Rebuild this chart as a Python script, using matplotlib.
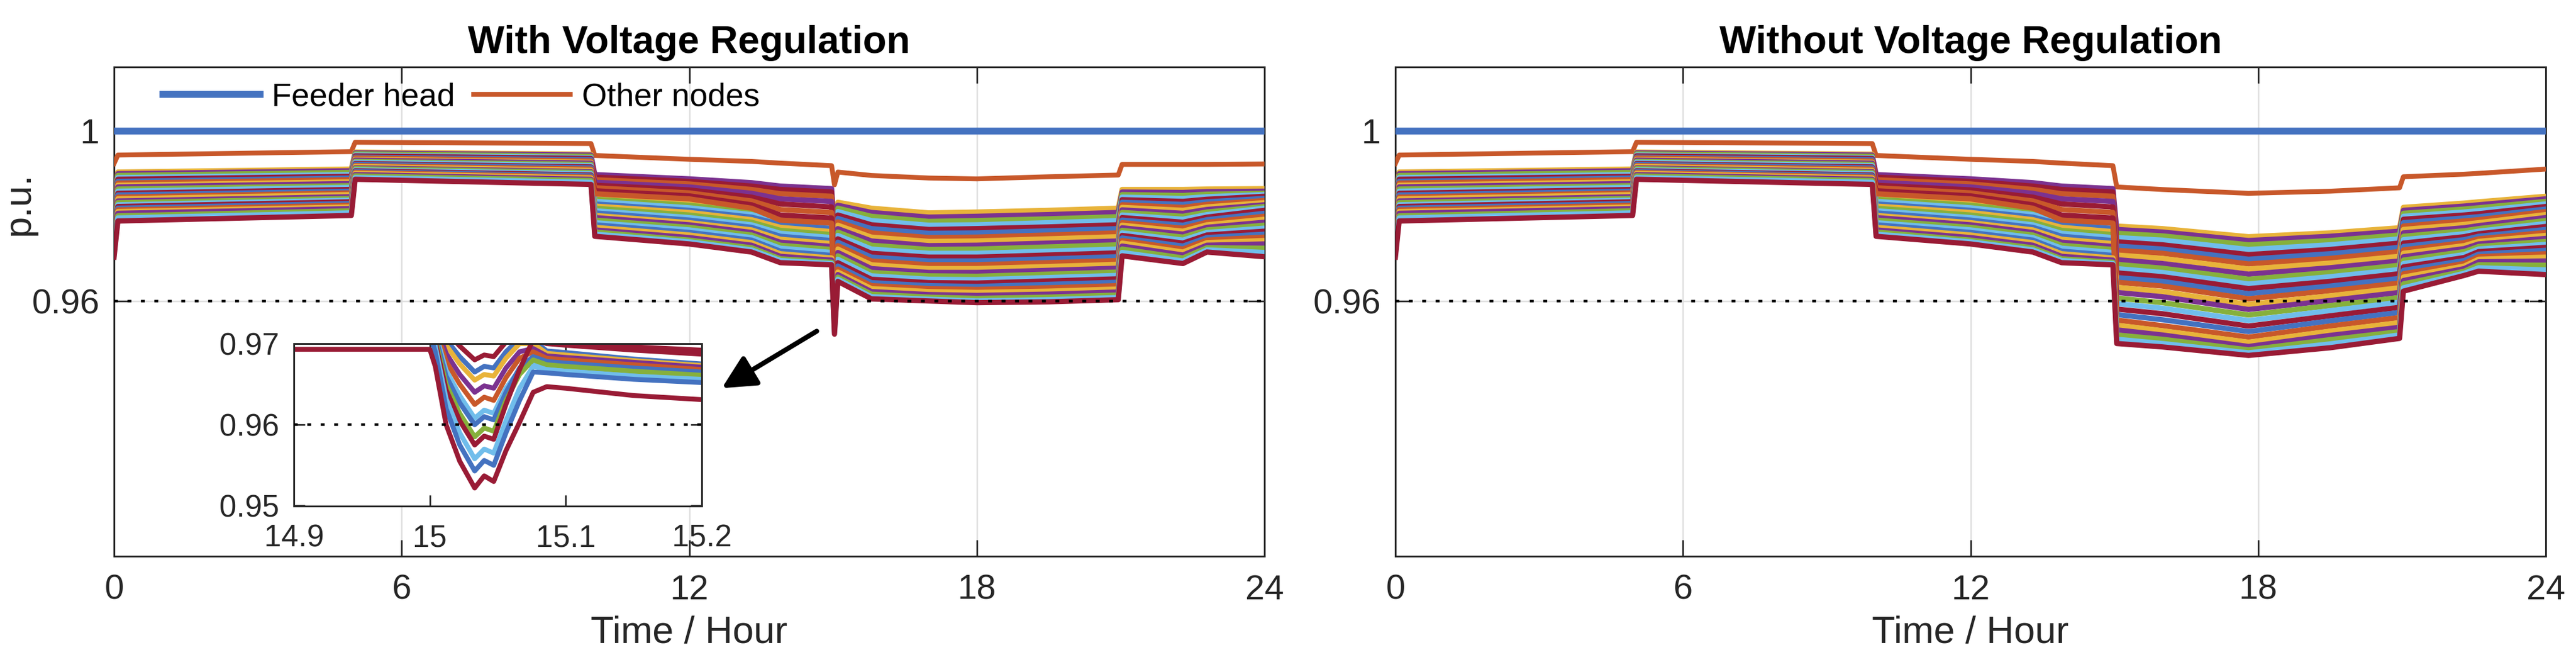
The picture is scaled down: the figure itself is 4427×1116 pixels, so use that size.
import numpy as np
import matplotlib
matplotlib.use('Agg')
import matplotlib.pyplot as plt

plt.rcParams['font.family'] = ['Liberation Sans', 'DejaVu Sans']

# ---------------- colours (MATLAB-like order) ----------------
BLUE, ORANGE, YELLOW, PURPLE, GREEN, LBLUE, DRED = (
    '#4472C0', '#C8582A', '#E8B33A', '#7B3290', '#86B03C', '#70BDEB', '#991B35')
PALETTE = [BLUE, ORANGE, YELLOW, PURPLE, GREEN, LBLUE, DRED]

# ---------------- data ----------------
feeder_t = [0.0, 24.0]
feeder_v = [1.0, 1.0]

# closest node ("Other nodes" legend entry)
top_t_pre = [0.0, 0.08, 4.95, 5.03, 9.95, 10.03, 12.0, 13.3, 13.9, 14.97]
top_v_pre = [0.9923, 0.9943, 0.9951, 0.9973, 0.9970, 0.9942, 0.9933, 0.9928, 0.9924, 0.9918]
top_t_reg = [15.03, 15.1, 15.8, 17.0, 18.0, 19.5, 20.95, 21.03, 22.3, 22.8, 24.0]
top_v_reg = [0.9873, 0.9903, 0.9895, 0.9889, 0.9887, 0.9892, 0.9896, 0.9921, 0.9921, 0.9921, 0.9922]
top_t_noreg = [15.05, 16.0, 17.8, 19.5, 20.95, 21.03, 22.3, 22.6, 24.0]
top_v_noreg = [0.9868, 0.9862, 0.9853, 0.9858, 0.9866, 0.9892, 0.9898, 0.9900, 0.9910]

# remaining nodes: one array per time instant, one entry per node
t_pre = [0.0, 0.08, 4.95, 5.03, 9.95, 10.03, 12.0, 13.3, 13.9, 14.97]
v_t0000 = [0.9845, 0.9839, 0.9834, 0.9828, 0.9822, 0.9817, 0.9811, 0.9805, 0.9799, 0.9793, 0.9787, 0.9781, 0.9775,
           0.9769, 0.9763, 0.9757, 0.9751, 0.9746, 0.9741, 0.9736, 0.9731, 0.9726, 0.9720, 0.9715, 0.9709, 0.9703]
v_t0008 = [0.9903, 0.9899, 0.9895, 0.9890, 0.9886, 0.9881, 0.9877, 0.9872, 0.9868, 0.9863, 0.9858, 0.9853, 0.9849,
           0.9844, 0.9840, 0.9835, 0.9831, 0.9826, 0.9822, 0.9818, 0.9814, 0.9810, 0.9806, 0.9800, 0.9795, 0.9788]
v_t0495 = [0.9910, 0.9906, 0.9902, 0.9897, 0.9893, 0.9889, 0.9885, 0.9880, 0.9876, 0.9871, 0.9867, 0.9862, 0.9858,
           0.9854, 0.9850, 0.9845, 0.9841, 0.9837, 0.9833, 0.9829, 0.9825, 0.9821, 0.9817, 0.9812, 0.9807, 0.9801]
v_t0503 = [0.9950, 0.9948, 0.9946, 0.9943, 0.9941, 0.9938, 0.9936, 0.9933, 0.9931, 0.9928, 0.9926, 0.9923, 0.9921,
           0.9918, 0.9916, 0.9913, 0.9911, 0.9908, 0.9906, 0.9904, 0.9902, 0.9900, 0.9897, 0.9894, 0.9890, 0.9886]
v_t0995 = [0.9945, 0.9943, 0.9940, 0.9937, 0.9935, 0.9932, 0.9929, 0.9926, 0.9924, 0.9921, 0.9918, 0.9915, 0.9913,
           0.9910, 0.9907, 0.9904, 0.9902, 0.9899, 0.9896, 0.9894, 0.9891, 0.9889, 0.9886, 0.9883, 0.9879, 0.9874]
v_t1003 = [0.9844, 0.9897, 0.9839, 0.9834, 0.9891, 0.9828, 0.9885, 0.9823, 0.9879, 0.9818, 0.9812, 0.9872, 0.9807,
           0.9866, 0.9801, 0.9796, 0.9790, 0.9784, 0.9859, 0.9779, 0.9852, 0.9773, 0.9767, 0.9762, 0.9757, 0.9752]
v_t1200 = [0.9830, 0.9887, 0.9825, 0.9819, 0.9881, 0.9813, 0.9875, 0.9808, 0.9868, 0.9802, 0.9796, 0.9861, 0.9790,
           0.9854, 0.9784, 0.9779, 0.9773, 0.9767, 0.9847, 0.9761, 0.9840, 0.9755, 0.9749, 0.9743, 0.9739, 0.9734]
v_t1330 = [0.9815, 0.9878, 0.9809, 0.9803, 0.9870, 0.9797, 0.9862, 0.9791, 0.9853, 0.9785, 0.9779, 0.9844, 0.9773,
           0.9835, 0.9767, 0.9761, 0.9755, 0.9749, 0.9826, 0.9743, 0.9818, 0.9737, 0.9731, 0.9725, 0.9720, 0.9715]
v_t1390 = [0.9800, 0.9870, 0.9794, 0.9787, 0.9862, 0.9780, 0.9852, 0.9773, 0.9840, 0.9766, 0.9759, 0.9828, 0.9752,
           0.9815, 0.9745, 0.9738, 0.9731, 0.9724, 0.9802, 0.9717, 0.9790, 0.9711, 0.9705, 0.9699, 0.9695, 0.9690]
v_t1497 = [0.9790, 0.9864, 0.9784, 0.9777, 0.9856, 0.9770, 0.9846, 0.9763, 0.9834, 0.9756, 0.9749, 0.9821, 0.9742,
           0.9808, 0.9735, 0.9728, 0.9721, 0.9714, 0.9795, 0.9707, 0.9783, 0.9701, 0.9696, 0.9691, 0.9688, 0.9685]

# with voltage regulation, after 15 h
t_reg = [15.03, 15.1, 15.8, 17.0, 18.0, 19.5, 20.95, 21.03, 22.3, 22.8, 24.0]
r_t1503 = [0.9780, 0.9768, 0.9757, 0.9745, 0.9733, 0.9720, 0.9707, 0.9694, 0.9681, 0.9668, 0.9655, 0.9642, 0.9630,
           0.9618, 0.9606, 0.9595, 0.9585, 0.9576, 0.9567, 0.9559, 0.9552, 0.9545, 0.9539, 0.9533, 0.9527, 0.9522]
r_t1510 = [0.9832, 0.9825, 0.9818, 0.9810, 0.9802, 0.9794, 0.9786, 0.9778, 0.9770, 0.9762, 0.9754, 0.9746, 0.9738,
           0.9730, 0.9722, 0.9714, 0.9706, 0.9698, 0.9690, 0.9682, 0.9675, 0.9668, 0.9662, 0.9656, 0.9651, 0.9646]
r_t1580 = [0.9818, 0.9808, 0.9799, 0.9789, 0.9779, 0.9770, 0.9760, 0.9750, 0.9741, 0.9731, 0.9722, 0.9712, 0.9703,
           0.9694, 0.9685, 0.9676, 0.9667, 0.9659, 0.9651, 0.9643, 0.9636, 0.9629, 0.9622, 0.9616, 0.9610, 0.9605]
r_t1700 = [0.9807, 0.9797, 0.9787, 0.9778, 0.9768, 0.9759, 0.9749, 0.9740, 0.9730, 0.9721, 0.9712, 0.9703, 0.9694,
           0.9685, 0.9676, 0.9667, 0.9659, 0.9651, 0.9643, 0.9636, 0.9629, 0.9622, 0.9615, 0.9609, 0.9604, 0.9600]
r_t1800 = [0.9809, 0.9799, 0.9789, 0.9779, 0.9770, 0.9760, 0.9750, 0.9741, 0.9731, 0.9722, 0.9712, 0.9703, 0.9694,
           0.9685, 0.9676, 0.9667, 0.9658, 0.9650, 0.9642, 0.9634, 0.9627, 0.9620, 0.9613, 0.9606, 0.9600, 0.9596]
r_t1950 = [0.9813, 0.9803, 0.9793, 0.9784, 0.9774, 0.9765, 0.9755, 0.9746, 0.9736, 0.9727, 0.9717, 0.9708, 0.9699,
           0.9690, 0.9681, 0.9672, 0.9663, 0.9655, 0.9647, 0.9639, 0.9631, 0.9623, 0.9616, 0.9609, 0.9603, 0.9598]
r_t2095 = [0.9818, 0.9808, 0.9798, 0.9789, 0.9779, 0.9770, 0.9760, 0.9751, 0.9741, 0.9732, 0.9722, 0.9713, 0.9704,
           0.9695, 0.9686, 0.9677, 0.9668, 0.9660, 0.9652, 0.9644, 0.9636, 0.9628, 0.9621, 0.9614, 0.9608, 0.9603]
r_t2103 = [0.9862, 0.9856, 0.9850, 0.9844, 0.9838, 0.9832, 0.9826, 0.9820, 0.9814, 0.9808, 0.9802, 0.9796, 0.9790,
           0.9784, 0.9778, 0.9772, 0.9766, 0.9760, 0.9754, 0.9748, 0.9742, 0.9736, 0.9729, 0.9722, 0.9714, 0.9706]
r_t2230 = [0.9862, 0.9855, 0.9848, 0.9841, 0.9834, 0.9827, 0.9820, 0.9813, 0.9806, 0.9799, 0.9792, 0.9785, 0.9778,
           0.9771, 0.9764, 0.9757, 0.9750, 0.9743, 0.9736, 0.9729, 0.9722, 0.9715, 0.9708, 0.9701, 0.9694, 0.9688]
r_t2280 = [0.9863, 0.9857, 0.9851, 0.9845, 0.9839, 0.9833, 0.9827, 0.9821, 0.9815, 0.9809, 0.9803, 0.9797, 0.9791,
           0.9785, 0.9779, 0.9773, 0.9767, 0.9761, 0.9755, 0.9749, 0.9743, 0.9737, 0.9731, 0.9725, 0.9720, 0.9715]
r_t2400 = [0.9864, 0.9858, 0.9853, 0.9850, 0.9846, 0.9841, 0.9836, 0.9831, 0.9826, 0.9822, 0.9818, 0.9813, 0.9806,
           0.9799, 0.9792, 0.9785, 0.9778, 0.9771, 0.9764, 0.9757, 0.9750, 0.9742, 0.9734, 0.9724, 0.9714, 0.9704]

# without voltage regulation, after 15 h
t_noreg = [15.05, 16.0, 17.8, 19.5, 20.95, 21.03, 22.3, 22.6, 24.0]
n_t1505 = [0.9776, 0.9768, 0.9759, 0.9749, 0.9739, 0.9729, 0.9719, 0.9708, 0.9697, 0.9686, 0.9676, 0.9666, 0.9655,
           0.9644, 0.9632, 0.9620, 0.9607, 0.9594, 0.9581, 0.9568, 0.9555, 0.9543, 0.9532, 0.9520, 0.9510, 0.9500]
n_t1600 = [0.9770, 0.9762, 0.9753, 0.9743, 0.9732, 0.9722, 0.9712, 0.9700, 0.9688, 0.9677, 0.9667, 0.9657, 0.9646,
           0.9635, 0.9622, 0.9610, 0.9596, 0.9583, 0.9570, 0.9556, 0.9542, 0.9530, 0.9520, 0.9510, 0.9500, 0.9492]
n_t1780 = [0.9751, 0.9742, 0.9732, 0.9721, 0.9709, 0.9698, 0.9687, 0.9675, 0.9663, 0.9651, 0.9640, 0.9629, 0.9617,
           0.9605, 0.9592, 0.9580, 0.9567, 0.9554, 0.9541, 0.9528, 0.9515, 0.9503, 0.9493, 0.9485, 0.9478, 0.9472]
n_t1950 = [0.9760, 0.9752, 0.9742, 0.9732, 0.9721, 0.9711, 0.9700, 0.9689, 0.9678, 0.9667, 0.9657, 0.9646, 0.9635,
           0.9624, 0.9612, 0.9601, 0.9589, 0.9577, 0.9565, 0.9553, 0.9541, 0.9529, 0.9519, 0.9509, 0.9499, 0.9490]
n_t2095 = [0.9772, 0.9764, 0.9755, 0.9746, 0.9736, 0.9726, 0.9716, 0.9705, 0.9694, 0.9684, 0.9674, 0.9664, 0.9653,
           0.9642, 0.9631, 0.9620, 0.9608, 0.9597, 0.9585, 0.9573, 0.9561, 0.9549, 0.9538, 0.9528, 0.9520, 0.9512]
n_t2103 = [0.9820, 0.9813, 0.9806, 0.9799, 0.9792, 0.9784, 0.9776, 0.9768, 0.9760, 0.9752, 0.9744, 0.9736, 0.9728,
           0.9720, 0.9712, 0.9704, 0.9696, 0.9688, 0.9680, 0.9672, 0.9664, 0.9656, 0.9648, 0.9640, 0.9631, 0.9623]
n_t2230 = [0.9830, 0.9823, 0.9816, 0.9809, 0.9802, 0.9795, 0.9788, 0.9780, 0.9772, 0.9765, 0.9758, 0.9751, 0.9744,
           0.9737, 0.9730, 0.9723, 0.9716, 0.9709, 0.9702, 0.9695, 0.9688, 0.9682, 0.9676, 0.9670, 0.9665, 0.9660]
n_t2260 = [0.9833, 0.9826, 0.9819, 0.9812, 0.9805, 0.9798, 0.9791, 0.9784, 0.9777, 0.9770, 0.9764, 0.9758, 0.9752,
           0.9746, 0.9740, 0.9734, 0.9728, 0.9722, 0.9716, 0.9710, 0.9704, 0.9698, 0.9692, 0.9685, 0.9678, 0.9670]
n_t2400 = [0.9846, 0.9840, 0.9834, 0.9828, 0.9822, 0.9816, 0.9810, 0.9803, 0.9796, 0.9789, 0.9782, 0.9775, 0.9768,
           0.9761, 0.9754, 0.9747, 0.9740, 0.9733, 0.9726, 0.9719, 0.9711, 0.9703, 0.9694, 0.9684, 0.9673, 0.9662]

# inset (zoom around 15 h, with regulation)
inset_t = [14.9, 15.0, 15.004, 15.012, 15.022, 15.033, 15.04, 15.047, 15.056, 15.066, 15.076, 15.086, 15.1, 15.15, 15.2]
inset_rows = [
    [0.9752, 0.9752, 0.9740, 0.9715, 0.9697, 0.9680, 0.9686, 0.9684, 0.9702, 0.9716, 0.9712, 0.9702, 0.9700, 0.9696, 0.9692],
    [0.9748, 0.9748, 0.9735, 0.9705, 0.9684, 0.9665, 0.9672, 0.9670, 0.9690, 0.9706, 0.9704, 0.9691, 0.9689, 0.9681, 0.9675],
    [0.9745, 0.9745, 0.9731, 0.9698, 0.9675, 0.9655, 0.9662, 0.9660, 0.9682, 0.9700, 0.9700, 0.9688, 0.9686, 0.9679, 0.9673],
    [0.9740, 0.9740, 0.9725, 0.9688, 0.9662, 0.9640, 0.9648, 0.9645, 0.9670, 0.9690, 0.9694, 0.9685, 0.9683, 0.9677, 0.9671],
    [0.9735, 0.9735, 0.9719, 0.9678, 0.9650, 0.9625, 0.9634, 0.9630, 0.9658, 0.9682, 0.9690, 0.9682, 0.9680, 0.9674, 0.9668],
    [0.9732, 0.9732, 0.9714, 0.9667, 0.9636, 0.9608, 0.9618, 0.9614, 0.9645, 0.9668, 0.9676, 0.9670, 0.9668, 0.9663, 0.9658],
    [0.9728, 0.9728, 0.9710, 0.9660, 0.9627, 0.9600, 0.9610, 0.9606, 0.9640, 0.9670, 0.9684, 0.9678, 0.9676, 0.9670, 0.9665],
    [0.9725, 0.9725, 0.9706, 0.9650, 0.9614, 0.9585, 0.9596, 0.9592, 0.9630, 0.9662, 0.9680, 0.9674, 0.9672, 0.9666, 0.9661],
    [0.9722, 0.9722, 0.9702, 0.9643, 0.9605, 0.9575, 0.9586, 0.9582, 0.9625, 0.9668, 0.9705, 0.9700, 0.9698, 0.9692, 0.9687],
    [0.9718, 0.9718, 0.9697, 0.9632, 0.9590, 0.9558, 0.9570, 0.9565, 0.9605, 0.9645, 0.9672, 0.9668, 0.9666, 0.9660, 0.9656],
    [0.9712, 0.9712, 0.9690, 0.9620, 0.9575, 0.9543, 0.9556, 0.9550, 0.9590, 0.9630, 0.9665, 0.9664, 0.9662, 0.9656, 0.9652],
    [0.9693, 0.9693, 0.9672, 0.9600, 0.9555, 0.9522, 0.9537, 0.9530, 0.9568, 0.9603, 0.9640, 0.9647, 0.9645, 0.9636, 0.9631],
]
inset_colors = [DRED, BLUE, YELLOW, PURPLE, ORANGE, LBLUE, BLUE, GREEN, DRED, LBLUE, BLUE, DRED]

limit_v = 0.96
x_ticks = [0, 6, 12, 18, 24]
y_ticks = [0.96, 1.0]
y_ticklabels = ['0.96', '1']

# ---------------- assemble ----------------
pre = np.column_stack([v_t0000, v_t0008, v_t0495, v_t0503, v_t0995,
                       v_t1003, v_t1200, v_t1330, v_t1390, v_t1497])
post_reg = np.column_stack([r_t1503, r_t1510, r_t1580, r_t1700, r_t1800, r_t1950,
                            r_t2095, r_t2103, r_t2230, r_t2280, r_t2400])
post_noreg = np.column_stack([n_t1505, n_t1600, n_t1780, n_t1950, n_t2095,
                              n_t2103, n_t2230, n_t2260, n_t2400])
n_nodes = pre.shape[0]
node_colors = [PALETTE[(i + 2) % 7] for i in range(n_nodes)]

DARK = '#262626'
W, H = 4427, 1116
fig = plt.figure(figsize=(W / 100, H / 100), dpi=100)

ax_l = fig.add_axes([196 / W, 1 - 955 / H, 1977 / W, 840 / H])
ax_r = fig.add_axes([2398 / W, 1 - 955 / H, 1977 / W, 840 / H])

TICK_FS = 43
LAB_FS = 47
NODE_LW = 6.5
DOT_STYLE = (0, (1.5, 3.7))


def style_axes(ax, title):
    ax.set_xlim(0, 24)
    ax.set_ylim(0.90, 1.015)
    ax.set_xticks(x_ticks)
    ax.set_xticklabels([str(v) for v in x_ticks])
    ax.set_yticks(y_ticks)
    ax.set_yticklabels(y_ticklabels)
    ax.tick_params(direction='in', length=20, width=2, colors=DARK, labelsize=TICK_FS,
                   top=True, right=True)
    ax.tick_params(axis='x', pad=22)
    ax.tick_params(axis='y', pad=18)
    for s in ax.spines.values():
        s.set_color(DARK)
        s.set_linewidth(2.2)
    ax.grid(True, color='#DEDEDE', lw=1.8)
    ax.set_axisbelow(True)
    ax.set_title(title, fontsize=48, fontweight='bold', color='k', pad=17)
    ax.set_xlabel('Time / Hour', fontsize=LAB_FS, color=DARK)
    ax.xaxis.set_label_coords(0.5, -0.121)
    ax.xaxis.label.set_va('top')
    ax.axhline(limit_v, color='k', ls=DOT_STYLE, lw=3.2, zorder=10)


def draw_panel(ax, post_t, post_v, top_t_post, top_v_post):
    fh, = ax.plot(feeder_t, feeder_v, color=BLUE, lw=8.5, zorder=3)
    t_all = t_pre + post_t
    on, = ax.plot(top_t_pre + top_t_post, top_v_pre + top_v_post, color=ORANGE, lw=6, zorder=3)
    for i in range(n_nodes):
        ax.plot(t_all, np.concatenate([pre[i], post_v[i]]), color=node_colors[i], lw=NODE_LW,
                zorder=3, solid_joinstyle='round')
    return fh, on


fh, on = draw_panel(ax_l, t_reg, post_reg, top_t_reg, top_v_reg)
draw_panel(ax_r, t_noreg, post_noreg, top_t_noreg, top_v_noreg)
style_axes(ax_l, 'With Voltage Regulation')
style_axes(ax_r, 'Without Voltage Regulation')

ax_l.set_ylabel('p.u.', fontsize=LAB_FS, color=DARK)
ax_l.yaxis.set_label_coords(-0.0673, 0.721)

leg = ax_l.legend([fh, on], ['Feeder head', 'Other nodes'], loc='center left',
                  bbox_to_anchor=(0.0425, 0.938), ncol=2, frameon=False, fontsize=40,
                  handlelength=3.0, handletextpad=0.36, columnspacing=0.58,
                  borderpad=0, borderaxespad=0)
for t in leg.get_texts():
    t.set_color('k')

# arrow pointing at inset
ax_l.annotate('', xy=(12.68, 0.9395), xytext=(14.66, 0.9529),
              arrowprops=dict(arrowstyle='-|>,head_length=0.7,head_width=0.35',
                              lw=6, color='k', mutation_scale=50, shrinkA=0, shrinkB=0),
              zorder=12)

# ---------------- inset ----------------
ax_i = fig.add_axes([505 / W, 1 - 868.5 / H, 701 / W, 278.5 / H])
ax_i.set_facecolor('white')
for row, c in zip(inset_rows, inset_colors):
    ax_i.plot(inset_t, row, color=c, lw=6, solid_joinstyle='round')
ax_i.axhline(limit_v, color='k', ls=DOT_STYLE, lw=3.2, zorder=10)
ax_i.set_xlim(14.9, 15.2)
ax_i.set_ylim(0.95, 0.97)
ax_i.set_xticks([14.9, 15.0, 15.1, 15.2])
ax_i.set_xticklabels(['14.9', '15', '15.1', '15.2'])
ax_i.set_yticks([0.95, 0.96, 0.97])
ax_i.set_yticklabels(['0.95', '0.96', '0.97'])
ax_i.tick_params(direction='in', length=14, width=2, colors=DARK, labelsize=38,
                 top=True, right=True)
ax_i.tick_params(axis='x', pad=22)
ax_i.tick_params(axis='y', pad=18)
for s in ax_i.spines.values():
    s.set_color(DARK)
    s.set_linewidth(2.2)

fig.savefig('out.png', dpi=100, facecolor='white')
